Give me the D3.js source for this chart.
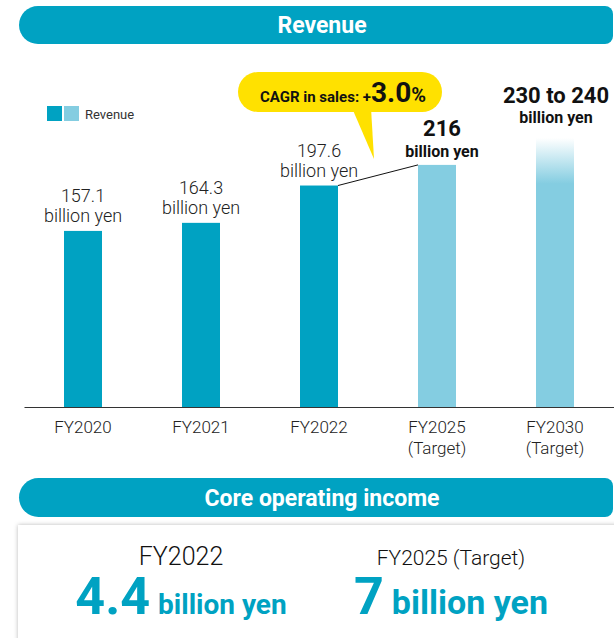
<!DOCTYPE html>
<html>
<head>
<meta charset="utf-8">
<script src="https://cdn.jsdelivr.net/npm/d3@7"></script>
<style>
  body { margin: 0; background: #fff; }
  svg { display: block; font-family: Roboto, "Open Sans", sans-serif; }
</style>
</head>
<body>
<div id="chart"></div>
<script>
// data
const years = ["FY2020", "FY2021", "FY2022", "FY2025", "FY2030"]
const isTarget = [false, false, false, true, true]
const revenue = [157.1, 164.3, 197.6, 216, 240]
const revenueLow = [null, null, null, null, 230]
const valueLabels = ["157.1", "164.3", "197.6", "216", "230 to 240"]
const cagrText = "3.0"
const coreYears = ["FY2022", "FY2025 (Target)"]
const coreValues = ["4.4", "7"]

const teal = "#00a2c2"
const light = "#84cde1"
const ink = "#333"

const W = 614, H = 638

const svg = d3.select("#chart").append("svg")
    .attr("width", W)
    .attr("height", H)

const defs = svg.append("defs")

const grad = defs.append("linearGradient")
    .attr("id", "fade")
    .attr("x1", 0).attr("y1", 0).attr("x2", 0).attr("y2", 1)
grad.append("stop").attr("offset", 0).attr("stop-color", light).attr("stop-opacity", 0)
grad.append("stop").attr("offset", 0.17).attr("stop-color", light).attr("stop-opacity", 1)
grad.append("stop").attr("offset", 1).attr("stop-color", light).attr("stop-opacity", 1)

const shadow = defs.append("filter")
    .attr("id", "shadow")
    .attr("x", "-5%").attr("y", "-10%").attr("width", "110%").attr("height", "130%")
shadow.append("feDropShadow")
    .attr("dx", 0).attr("dy", 0).attr("stdDeviation", 2)
    .attr("flood-color", "#000").attr("flood-opacity", 0.28)

// banner: round on the left, small corners on the right
function banner(y0, h, label) {
    const x0 = 19, x1 = 613, r = h / 2, rr = 8
    const p = d3.path()
    p.moveTo(x0 + r, y0)
    p.lineTo(x1 - rr, y0)
    p.arcTo(x1, y0, x1, y0 + rr, rr)
    p.lineTo(x1, y0 + h - rr)
    p.arcTo(x1, y0 + h, x1 - rr, y0 + h, rr)
    p.lineTo(x0 + r, y0 + h)
    p.arc(x0 + r, y0 + r, r, Math.PI / 2, Math.PI * 3 / 2)
    p.closePath()
    svg.append("path").attr("d", p.toString()).attr("fill", teal)
    svg.append("text")
        .attr("x", 322).attr("y", y0 + h / 2 + 8)
        .attr("text-anchor", "middle")
        .attr("fill", "#fff")
        .attr("font-size", 23)
        .attr("font-weight", 700)
        .text(label)
}

banner(6, 38, "Revenue")

// scales
const x = d3.scaleBand()
    .domain(years)
    .range([24, 614])
    .paddingInner(0.678)
    .paddingOuter(0.339)

const y = d3.scaleLinear()
    .domain([0, 240])
    .range([407, 138])

// bars
svg.append("g").selectAll("rect")
    .data(years)
    .join("rect")
    .attr("x", d => x(d))
    .attr("width", x.bandwidth())
    .attr("y", (d, i) => y(revenue[i]))
    .attr("height", (d, i) => y(0) - y(revenue[i]))
    .attr("fill", (d, i) => revenueLow[i] != null ? "url(#fade)" : (isTarget[i] ? light : teal))

// axis
const axis = svg.append("g")
    .attr("transform", `translate(0,${y(0)})`)
    .call(d3.axisBottom(x).tickSize(0).tickSizeOuter(0).tickFormat(""))
axis.select(".domain").attr("stroke", ink).attr("stroke-width", 1.2)

const tickText = svg.append("g").selectAll("text")
    .data(years)
    .join("text")
    .attr("x", d => x(d) + x.bandwidth() / 2)
    .attr("y", y(0) + 26)
    .attr("text-anchor", "middle")
    .attr("font-size", 17)
    .attr("font-weight", 300)
    .attr("fill", "#222")
tickText.append("tspan").text(d => d)
tickText.filter((d, i) => isTarget[i])
    .append("tspan")
    .attr("x", d => x(d) + x.bandwidth() / 2)
    .attr("dy", 21)
    .text("(Target)")

// value labels
years.forEach((d, i) => {
    const cx = x(d) + x.bandwidth() / 2
    const top = y(revenue[i])
    if (!isTarget[i]) {
        svg.append("text")
            .attr("x", cx).attr("y", top - 29)
            .attr("text-anchor", "middle")
            .attr("font-size", 18).attr("font-weight", 300).attr("fill", "#222")
            .text(valueLabels[i])
        svg.append("text")
            .attr("x", cx).attr("y", top - 9)
            .attr("text-anchor", "middle")
            .attr("font-size", 18).attr("font-weight", 300).attr("fill", "#222")
            .text("billion yen")
    } else {
        const ranged = revenueLow[i] != null
        const lx = ranged ? cx + 1 : cx + 5
        const off = ranged ? 6 : 0
        svg.append("text")
            .attr("x", lx).attr("y", top - 29 - off)
            .attr("text-anchor", "middle")
            .attr("font-size", 22).attr("font-weight", 700).attr("fill", "#111")
            .text(valueLabels[i])
        svg.append("text")
            .attr("x", lx).attr("y", top - 8 - off - (ranged ? 1 : 0))
            .attr("text-anchor", "middle")
            .attr("font-size", 16).attr("font-weight", 700).attr("fill", "#111")
            .text("billion yen")
    }
})

// connector FY2022 -> FY2025
svg.append("line")
    .attr("x1", x("FY2022") + x.bandwidth()).attr("y1", y(revenue[2]))
    .attr("x2", x("FY2025")).attr("y2", y(revenue[3]))
    .attr("stroke", "#111").attr("stroke-width", 1)

// CAGR bubble
const bubble = svg.append("g")
bubble.append("path")
    .attr("d", "M352,108 L374,159 L371,108 Z")
    .attr("fill", "#ffe100")
bubble.append("rect")
    .attr("x", 238).attr("y", 72)
    .attr("width", 204).attr("height", 40)
    .attr("rx", 20)
    .attr("fill", "#ffe100")
const cagrLabel = bubble.append("text")
    .attr("x", 343).attr("y", 102)
    .attr("text-anchor", "middle")
    .attr("font-weight", 700)
    .attr("fill", "#111")
cagrLabel.append("tspan").attr("font-size", 15).text("CAGR in sales: +")
cagrLabel.append("tspan").attr("font-size", 28).text(cagrText)
cagrLabel.append("tspan").attr("font-size", 20).text("%")

// legend
svg.append("rect").attr("x", 47).attr("y", 106).attr("width", 15).attr("height", 15).attr("fill", teal)
svg.append("rect").attr("x", 64).attr("y", 106).attr("width", 15).attr("height", 15).attr("fill", light)
svg.append("text")
    .attr("x", 85).attr("y", 119)
    .attr("font-size", 13).attr("fill", ink)
    .text("Revenue")

// core operating income
banner(478, 39, "Core operating income")

svg.append("rect")
    .attr("x", 18).attr("y", 525)
    .attr("width", 620).attr("height", 140)
    .attr("fill", "#fff")
    .attr("filter", "url(#shadow)")

const coreX = [181, 451]
const unitSize = [28, 34]
coreYears.forEach((d, i) => {
    svg.append("text")
        .attr("x", coreX[i]).attr("y", 565)
        .attr("text-anchor", "middle")
        .attr("font-size", i == 0 ? 25 : 21)
        .attr("font-weight", 300)
        .attr("fill", "#111")
        .text(d)
    const t = svg.append("text")
        .attr("x", coreX[i]).attr("y", 614)
        .attr("text-anchor", "middle")
        .attr("font-weight", 700)
        .attr("fill", teal)
    t.append("tspan").attr("font-size", 52).text(coreValues[i])
    t.append("tspan").attr("font-size", unitSize[i]).attr("dx", 8).text("billion yen")
})
</script>
</body>
</html>
